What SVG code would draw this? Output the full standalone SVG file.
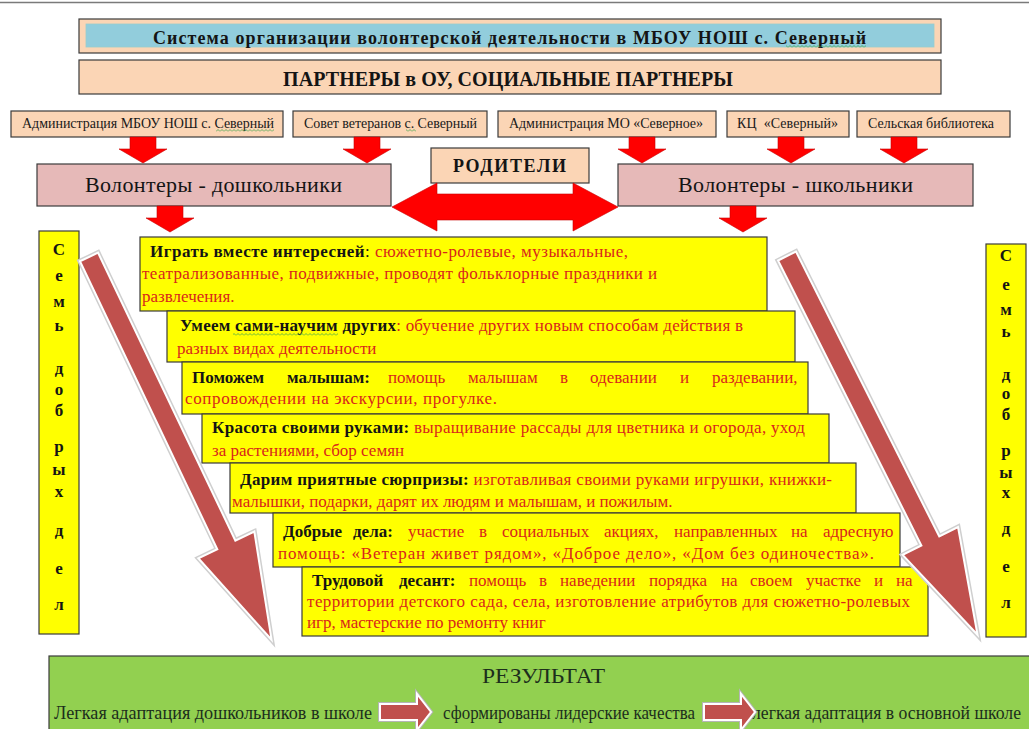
<svg xmlns="http://www.w3.org/2000/svg" width="1029" height="729" viewBox="0 0 1029 729">
<defs>
<style>
.f{font-family:"Liberation Serif","Times New Roman",serif}
.box{stroke:#3b3b3b;stroke-width:1.2}
.peach{fill:#FBD5B5}
.blue{fill:#92CDDC}
.pink{fill:#E6B9B8}
.yel{fill:#FFFF00}
.grn{fill:#92D050}
.yt{font-size:17px;fill:#D8261B}
.hb{font-weight:bold;fill:#141414}
.k{fill:#141414}
.sd{font-size:17px;font-weight:bold;fill:#141414;text-anchor:middle}
.pt{font-size:14px;fill:#1a1a1a}
.res{fill:#1c2e1c}
.red{fill:#FF0000;stroke:#C80000;stroke-width:0.6}
.sq{fill:url(#sqp)}
</style>
<pattern id="sqp" width="4" height="3" patternUnits="userSpaceOnUse"><path d="M0,2.5L2,0.5L4,2.5" fill="none" stroke="#3fa34d" stroke-width="0.8"/></pattern>
<path id="dn" d="M-13,0H13V12H24L0,26L-24,12H-13Z"/>
<path id="bigA" d="M0,-10H319V-31L424,0L319,31V10H0Z"/>
<path id="resA" d="M0,-8H37V-18L51,0L37,18V8H0Z"/>
</defs>
<rect width="1029" height="729" fill="#fff"/>
<line x1="0" y1="2.5" x2="1029" y2="2.5" stroke="#7a7a7a" stroke-width="1.5"/>

<g id="title">
<rect class="box peach" x="79" y="19" width="862" height="34"/>
<rect x="86" y="24" width="848" height="23" class="blue" stroke="#9cc" stroke-width="0.8"/>
<text class="f hb" x="153" y="44" font-size="18" textLength="713">Система организации волонтерской деятельности в МБОУ НОШ с. Северный</text>
<rect class="sq" x="786" y="45" width="80" height="3"/>
</g>

<g id="partners-header">
<rect class="box peach" x="79" y="60" width="862" height="34"/>
<text class="f hb" x="283" y="86" font-size="20" textLength="450">ПАРТНЕРЫ в ОУ, СОЦИАЛЬНЫЕ ПАРТНЕРЫ</text>
</g>

<g id="partner-1">
<rect class="box peach" x="11" y="111" width="272" height="26"/>
<text class="f pt" x="22" y="128" textLength="252">Администрация МБОУ НОШ с. Северный</text>
<rect class="sq" x="216" y="129" width="58" height="3"/>
</g>
<g id="partner-2">
<rect class="box peach" x="293" y="111" width="194" height="26"/>
<text class="f pt" x="304" y="128" textLength="173">Совет ветеранов с. Северный</text>
<rect class="sq" x="406" y="129" width="10" height="3"/>
</g>
<g id="partner-3">
<rect class="box peach" x="498" y="111" width="218" height="26"/>
<text class="f pt" x="509" y="128" textLength="194">Администрация МО «Северное»</text>
</g>
<g id="partner-4">
<rect class="box peach" x="727" y="111" width="122" height="26"/>
<text class="f pt" x="737" y="128" textLength="101">КЦ&#160; «Северный»</text>
</g>
<g id="partner-5">
<rect class="box peach" x="857" y="111" width="153" height="26"/>
<text class="f pt" x="868" y="128" textLength="126">Сельская библиотека</text>
</g>

<g id="volunteers-preschool">
<rect class="box pink" x="37" y="164" width="354" height="42"/>
<text class="f k" x="85" y="192" font-size="22" textLength="257">Волонтеры - дошкольники</text>
</g>
<g id="volunteers-school">
<rect class="box pink" x="618" y="164" width="355" height="42"/>
<text class="f k" x="678" y="192" font-size="22" textLength="235">Волонтеры - школьники</text>
</g>
<g id="parents">
<rect class="box peach" x="431" y="148" width="158" height="35"/>
<text class="f hb" x="453" y="172" font-size="18" textLength="113">РОДИТЕЛИ</text>
</g>

<g id="seven-left">
<rect class="box yel" x="39" y="231" width="40" height="403"/>
<text class="f sd"><tspan x="59" y="255">С</tspan><tspan x="59" y="281">е</tspan><tspan x="59" y="307">м</tspan><tspan x="59" y="331">ь</tspan><tspan x="59" y="374">д</tspan><tspan x="59" y="395">о</tspan><tspan x="59" y="416">б</tspan><tspan x="59" y="452">р</tspan><tspan x="59" y="475">ы</tspan><tspan x="59" y="497">х</tspan><tspan x="59" y="536">д</tspan><tspan x="59" y="574">е</tspan><tspan x="59" y="610">л</tspan></text>
</g>
<g id="seven-right">
<rect class="box yel" x="986" y="244" width="40" height="393"/>
<text class="f sd"><tspan x="1006" y="261">С</tspan><tspan x="1006" y="290">е</tspan><tspan x="1006" y="315">м</tspan><tspan x="1006" y="337">ь</tspan><tspan x="1006" y="380">д</tspan><tspan x="1006" y="399">о</tspan><tspan x="1006" y="420">б</tspan><tspan x="1006" y="456">р</tspan><tspan x="1006" y="478">ы</tspan><tspan x="1006" y="498">х</tspan><tspan x="1006" y="534">д</tspan><tspan x="1006" y="572">е</tspan><tspan x="1006" y="608">л</tspan></text>
</g>

<g id="activity-1">
<rect class="box yel" x="140" y="237" width="627" height="74"/>
<text class="f yt" x="150" y="257" textLength="478"><tspan class="hb">Играть вместе интересней</tspan><tspan class="k">: </tspan>сюжетно-ролевые, музыкальные,</text>
<text class="f yt" x="142" y="279" textLength="515">театрализованные, подвижные, проводят фольклорные праздники и</text>
<text class="f yt" x="142" y="302">развлечения.</text>
</g>
<g id="activity-2">
<rect class="box yel" x="167" y="311" width="628" height="51"/>
<text class="f yt" x="180" y="331" textLength="563"><tspan class="hb">Умеем сами-научим других</tspan>: обучение других новым способам действия в</text>
<rect class="sq" x="233" y="333" width="105" height="3"/>
<text class="f yt" x="177" y="354">разных видах деятельности</text>
</g>
<g id="activity-3">
<rect class="box yel" x="182" y="362" width="626" height="52"/>
<text class="f yt" y="383"><tspan class="hb" x="192">Поможем</tspan><tspan class="hb" x="287">малышам:</tspan><tspan x="388">помощь</tspan><tspan x="468">малышам</tspan><tspan x="560">в</tspan><tspan x="590">одевании</tspan><tspan x="680">и</tspan><tspan x="712">раздевании,</tspan></text>
<text class="f yt" x="185" y="404" textLength="312">сопровождении на экскурсии, прогулке.</text>
</g>
<g id="activity-4">
<rect class="box yel" x="202" y="414" width="627" height="49"/>
<text class="f yt" x="212" y="433" textLength="593"><tspan class="hb">Красота своими руками:</tspan> выращивание рассады для цветника и огорода, уход</text>
<text class="f yt" x="212" y="456">за растениями, сбор семян</text>
</g>
<g id="activity-5">
<rect class="box yel" x="230" y="463" width="626" height="50"/>
<text class="f yt" x="240" y="485" textLength="592"><tspan class="hb">Дарим приятные сюрпризы:</tspan> изготавливая своими руками игрушки, книжки-</text>
<text class="f yt" x="232" y="507">малышки, подарки, дарят их людям и малышам, и пожилым.</text>
</g>
<g id="activity-6">
<rect class="box yel" x="273" y="513" width="627" height="54"/>
<text class="f yt" y="537"><tspan class="hb" x="283">Добрые</tspan><tspan class="hb" x="353">дела:</tspan><tspan x="408">участие</tspan><tspan x="479">в</tspan><tspan x="502">социальных</tspan><tspan x="604">акциях,</tspan><tspan x="674">направленных</tspan><tspan x="791">на</tspan><tspan x="823">адресную</tspan></text>
<text class="f yt" x="278" y="559" textLength="596">помощь: «Ветеран живет рядом», «Доброе дело», «Дом без одиночества».</text>
</g>
<g id="activity-7">
<rect class="box yel" x="302" y="567" width="626" height="69"/>
<text class="f yt" y="586"><tspan class="hb" x="312">Трудовой</tspan><tspan class="hb" x="399">десант:</tspan><tspan x="469">помощь</tspan><tspan x="539">в</tspan><tspan x="560">наведении</tspan><tspan x="649">порядка</tspan><tspan x="721">на</tspan><tspan x="750">своем</tspan><tspan x="806">участке</tspan><tspan x="874">и</tspan><tspan x="896">на</tspan></text>
<text class="f yt" x="307" y="607" textLength="603">территории детского сада, села, изготовление атрибутов для сюжетно-ролевых</text>
<text class="f yt" x="307" y="628">игр, мастерские по ремонту книг</text>
</g>

<g id="result">
<rect class="box grn" x="49" y="656" width="990" height="80"/>
<text class="f res" x="482" y="683" font-size="22" textLength="123" lengthAdjust="spacingAndGlyphs">РЕЗУЛЬТАТ</text>
<text class="f res" x="54" y="719" font-size="18" textLength="318" lengthAdjust="spacingAndGlyphs">Легкая адаптация дошкольников в школе</text>
<text class="f res" x="443" y="719" font-size="18" textLength="252" lengthAdjust="spacingAndGlyphs">сформированы лидерские качества</text>
<text class="f res" x="752" y="719" font-size="18" textLength="269" lengthAdjust="spacingAndGlyphs">легкая адаптация в основной школе</text>
</g>

<g id="connectors">
<use href="#dn" class="red" transform="translate(143,137)"/>
<use href="#dn" class="red" transform="translate(367,137)"/>
<use href="#dn" class="red" transform="translate(642,137)"/>
<use href="#dn" class="red" transform="translate(791,137)"/>
<use href="#dn" class="red" transform="translate(904,137)"/>
<use href="#dn" class="red" transform="translate(170,206)"/>
<use href="#dn" class="red" transform="translate(743,206)"/>
<path class="red" d="M392,207L437,183V194H573V183L618,207L573,231V220H437V231Z"/>
<g transform="translate(89,257) rotate(64.5)">
<use href="#bigA" fill="none" stroke="#cfcfcf" stroke-width="5"/>
<use href="#bigA" fill="#C0504D" stroke="#fff" stroke-width="2"/>
</g>
<g transform="translate(787,256) rotate(63.3)">
<use href="#bigA" fill="none" stroke="#cfcfcf" stroke-width="5"/>
<use href="#bigA" fill="#C0504D" stroke="#fff" stroke-width="2"/>
</g>
<g transform="translate(380,712)">
<use href="#resA" fill="none" stroke="#b5b5b5" stroke-width="4"/>
<use href="#resA" fill="#C0504D" stroke="#fff" stroke-width="2"/>
</g>
<g transform="translate(704,712)">
<use href="#resA" fill="none" stroke="#b5b5b5" stroke-width="4"/>
<use href="#resA" fill="#C0504D" stroke="#fff" stroke-width="2"/>
</g>
</g>
</svg>
